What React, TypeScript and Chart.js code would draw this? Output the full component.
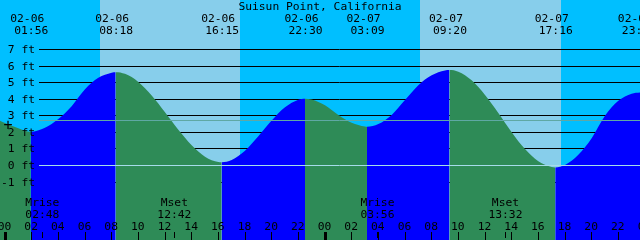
import React, { useEffect, useRef } from 'react';
import { Chart, registerables } from 'chart.js';

Chart.register(...registerables);

// ---------- data ----------
const TITLE = 'Suisun Point, California';

// hours since 02-06 00:00 and tide height (ft)
const tideHours = [-0.375, 0, 1, 1.933, 3, 4, 5, 6, 7, 8, 8.3, 9, 10, 11, 12, 13, 14, 15, 16, 16.25, 17, 18, 19, 20, 21, 22, 22.5, 23, 24, 25, 26, 27, 27.15, 28, 29, 30, 31, 32, 33, 33.333, 34, 35, 36, 37, 38, 39, 40, 41, 41.267, 42, 43, 44, 45, 46, 47, 47.7];
const tideFeet = [2.70, 2.56, 2.24, 2.03, 2.27, 2.80, 3.58, 4.60, 5.29, 5.60, 5.63, 5.53, 5.04, 4.22, 3.21, 2.15, 1.22, 0.53, 0.21, 0.20, 0.33, 0.89, 1.76, 2.71, 3.51, 3.97, 4.03, 3.98, 3.63, 3.05, 2.58, 2.35, 2.34, 2.50, 3.05, 3.95, 4.85, 5.45, 5.74, 5.76, 5.66, 5.14, 4.26, 3.17, 2.01, 0.99, 0.25, -0.10, -0.12, 0.03, 0.65, 1.65, 3.00, 3.90, 4.33, 4.41];

// high / low tide events
const eventHours = [1.933, 8.3, 16.25, 22.5, 27.15, 33.333, 41.267, 47.5];
const eventDates = ['02-06', '02-06', '02-06', '02-06', '02-07', '02-07', '02-07', '02-07'];
const eventTimes = ['01:56', '08:18', '16:15', '22:30', '03:09', '09:20', '17:16', '23:30'];

// daylight
const sunriseHours = [7.12, 31.1];
const sunsetHours = [17.63, 41.67];

// moon events
const moonHours = [2.8, 12.7, 27.933, 37.533];
const moonNames = ['Mrise', 'Mset', 'Mrise', 'Mset'];
const moonTimes = ['02:48', '12:42', '03:56', '13:32'];

// axes
const X_MIN = -0.375;
const X_MAX = 47.625;
const Y_MIN = -4.5;
const Y_MAX = 9.99;
const feetTicks = [-1, 0, 1, 2, 3, 4, 5, 6, 7];
const meanSeaLevel = 2.72;
const hourTickValues = [0, 2, 4, 6, 8, 10, 12, 14, 16, 18, 20, 22, 24, 26, 28, 30, 32, 34, 36, 38, 40, 42, 44, 46, 48];
const hourTickLabels = ['00', '02', '04', '06', '08', '10', '12', '14', '16', '18', '20', '22', '00', '02', '04', '06', '08', '10', '12', '14', '16', '18', '20', '22', '00'];

// ---------- styles ----------
const NIGHT = '#00BFFF';
const DAY = '#87CEEB';
const FLOOD = '#0000FF';
const EBB = '#2E8B57';
const DATUM_COLOR = '#a6dcea';
const MSL_COLOR = '#5fa8a4';
const FONT = '11.3px "DejaVu Sans Mono", "Liberation Mono", monospace';
const W = 640;
const H = 240;

const tidePlugin = {
  id: 'tideDecor',
  beforeDatasetsDraw(chart: any) {
    const { ctx, scales } = chart;
    const xs = scales.x;
    const ys = scales.y;
    ctx.save();
    ctx.fillStyle = NIGHT;
    ctx.fillRect(0, 0, W, H);
    ctx.fillStyle = DAY;
    for (let i = 0; i < sunriseHours.length; i++) {
      const a = Math.round(xs.getPixelForValue(sunriseHours[i]));
      const b = Math.round(xs.getPixelForValue(sunsetHours[i]));
      ctx.fillRect(a, 0, b - a, H);
    }
    ctx.strokeStyle = '#000';
    ctx.lineWidth = 1;
    for (const f of feetTicks) {
      if (f === 0) continue;
      const py = Math.floor(ys.getPixelForValue(f)) + 0.5;
      ctx.beginPath();
      ctx.moveTo(39, py);
      ctx.lineTo(W, py);
      ctx.stroke();
    }
    ctx.restore();
  },
  afterDatasetsDraw(chart: any) {
    const { ctx, scales } = chart;
    const xs = scales.x;
    const ys = scales.y;
    ctx.save();
    ctx.lineWidth = 1;
    // mean sea level line
    const pm = Math.floor(ys.getPixelForValue(meanSeaLevel)) + 0.5;
    ctx.strokeStyle = MSL_COLOR;
    ctx.beginPath();
    ctx.moveTo(39, pm);
    ctx.lineTo(W, pm);
    ctx.stroke();
    // datum line
    const p0 = Math.floor(ys.getPixelForValue(0)) + 0.5;
    ctx.strokeStyle = DATUM_COLOR;
    ctx.beginPath();
    ctx.moveTo(39, p0);
    ctx.lineTo(W, p0);
    ctx.stroke();

    ctx.fillStyle = '#000';
    ctx.font = FONT;
    ctx.textBaseline = 'alphabetic';

    // y labels
    ctx.textAlign = 'right';
    for (const f of feetTicks) {
      const py = Math.floor(ys.getPixelForValue(f));
      ctx.fillText(`${f} ft`, 35, py + 4);
    }

    // title
    ctx.textAlign = 'center';
    ctx.fillText(TITLE, 320, 10);

    // tide event labels
    for (let i = 0; i < eventHours.length; i++) {
      const px = xs.getPixelForValue(eventHours[i]);
      ctx.fillText(eventDates[i], px - 3.5, 22);
      ctx.fillText(eventTimes[i], px + 0.5, 34);
    }

    // moon labels + ticks
    for (let i = 0; i < moonHours.length; i++) {
      const px = xs.getPixelForValue(moonHours[i]);
      ctx.fillText(moonNames[i], px, 206);
      ctx.fillText(moonTimes[i], px, 218);
      ctx.fillRect(Math.floor(px), 232, 1, 6);
    }

    // hour labels + ticks
    for (let i = 0; i < hourTickValues.length; i++) {
      const h = hourTickValues[i];
      const px = xs.getPixelForValue(h);
      ctx.fillText(hourTickLabels[i], px - 0.5, 230);
      if (h % 24 === 0) {
        ctx.fillRect(Math.round(px) - 1, 232, 3, 8);
      } else {
        ctx.fillRect(Math.floor(px), 232, 1, 8);
      }
    }

    // plus marker
    ctx.font = '15px "DejaVu Sans Mono", monospace';
    ctx.fillText('+', 8, 130);
    ctx.restore();
  },
};

export default function App() {
  const ref = useRef<HTMLCanvasElement | null>(null);

  useEffect(() => {
    document.body.style.margin = '0';
    const canvas = ref.current;
    if (!canvas) return;
    const chart = new Chart(canvas, {
      type: 'line',
      data: {
        datasets: [
          {
            data: tideHours.map((h, i) => ({ x: h, y: tideFeet[i] })),
            fill: 'start',
            backgroundColor: EBB,
            borderColor: 'rgba(0,0,0,0)',
            borderWidth: 0,
            pointRadius: 0,
            cubicInterpolationMode: 'monotone',
            segment: {
              backgroundColor: (c: any) => (c.p1.parsed.y > c.p0.parsed.y ? FLOOD : EBB),
              borderColor: () => 'rgba(0,0,0,0)',
            },
          },
        ],
      },
      options: {
        responsive: false,
        animation: false,
        devicePixelRatio: 1,
        layout: { padding: 0 },
        plugins: {
          legend: { display: false },
          tooltip: { enabled: false },
          title: { display: false },
        },
        scales: {
          x: { type: 'linear', min: X_MIN, max: X_MAX, display: false },
          y: { type: 'linear', min: Y_MIN, max: Y_MAX, display: false },
        },
      },
      plugins: [tidePlugin],
    } as any);
    return () => chart.destroy();
  }, []);

  return (
    <div style={{ width: W, height: H }}>
      <canvas ref={ref} width={W} height={H} style={{ display: 'block', width: W, height: H }} />
    </div>
  );
}
